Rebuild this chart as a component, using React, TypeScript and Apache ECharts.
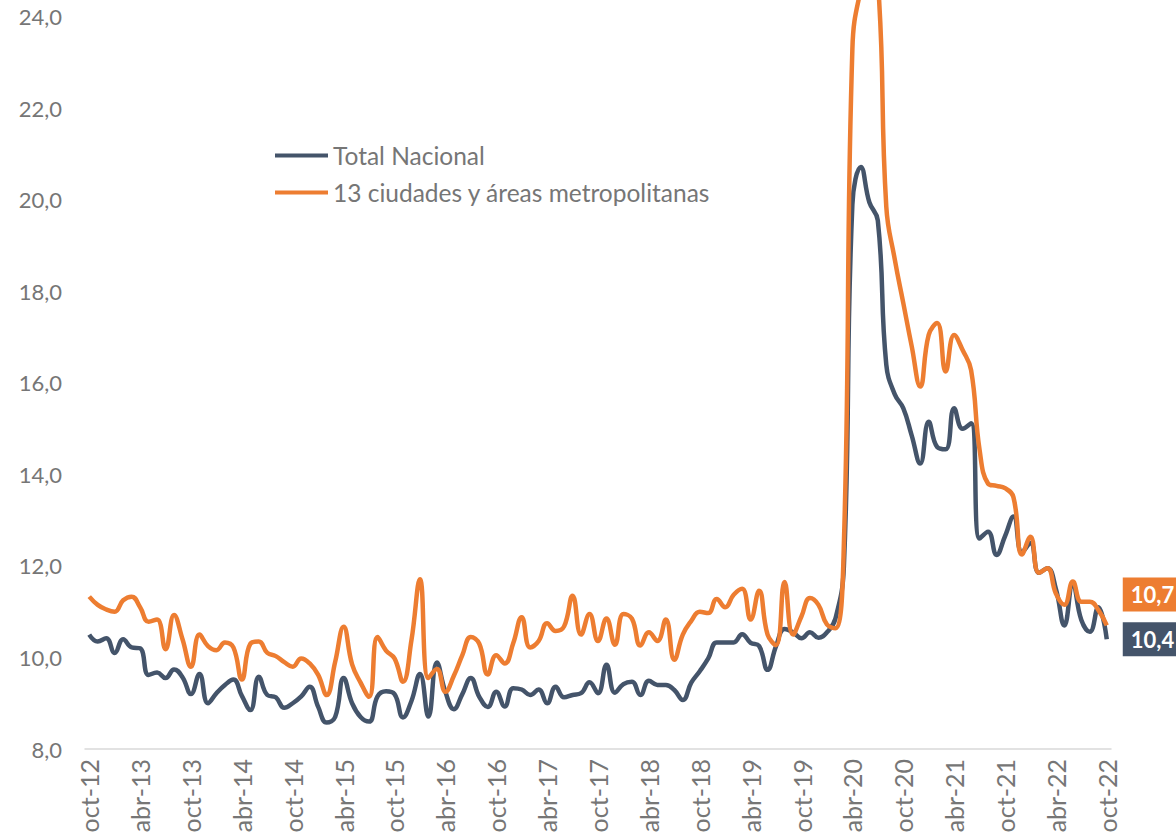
import React, { useEffect, useRef } from "react";
import * as echarts from "echarts";

const monthNames = ["ene", "feb", "mar", "abr", "may", "jun", "jul", "ago", "sep", "oct", "nov", "dic"];
const startYear = 2012;
const startMonth = 9; // oct
const pointCount = 121;

const categories: string[] = [];
for (let i = 0; i < pointCount; i++) {
  const m = (startMonth + i) % 12;
  const y = startYear + Math.floor((startMonth + i) / 12);
  categories.push(`${monthNames[m]}-${String(y).slice(2)}`);
}

const totalNacional = [
  10.5, 10.35, 10.42, 10.1, 10.4, 10.22, 10.2, 9.62, 9.67, 9.55,
  9.74, 9.57, 9.2, 9.64, 9.0, 9.22, 9.4, 9.52, 9.16, 8.85,
  9.58, 9.18, 9.13, 8.9, 9.0, 9.15, 9.36, 8.92, 8.58, 8.7,
  9.55, 9.0, 8.7, 8.6, 9.15, 9.26, 9.2, 8.69, 9.05, 9.64,
  8.71, 9.89, 9.25, 8.87, 9.2, 9.55, 9.14, 8.92, 9.25, 8.93,
  9.33, 9.3, 9.18, 9.3, 9.0, 9.36, 9.13, 9.18, 9.22, 9.46,
  9.22, 9.84, 9.23, 9.42, 9.47, 9.18, 9.49, 9.4, 9.4, 9.29,
  9.07, 9.45, 9.7, 9.98, 10.33, 10.33, 10.33, 10.51, 10.32, 10.25,
  9.73, 10.25, 10.62, 10.55, 10.42, 10.55, 10.43, 10.55, 10.85, 12.0,
  19.9, 20.72, 19.95, 19.55, 16.4, 15.75, 15.45, 14.85, 14.24, 15.15,
  14.6, 14.55, 15.45, 15.0, 15.12, 12.6, 12.75, 12.24, 12.65, 13.08,
  12.3, 12.5, 11.85, 11.95, 11.5, 10.7, 11.6, 10.82, 10.56, 11.1,
  10.4,
];

const trece = [
  11.33, 11.15, 11.05, 11.0, 11.25, 11.33, 11.1, 10.78, 10.83, 10.18,
  10.93, 10.4, 9.8, 10.5, 10.25, 10.16, 10.33, 10.22, 9.52, 10.3,
  10.35, 10.1, 10.03, 9.9, 9.8, 9.98, 9.87, 9.62, 9.18, 9.9,
  10.67, 9.85, 9.45, 9.14, 10.45, 10.15, 9.98, 9.47, 10.38, 11.71,
  9.55, 9.75, 9.25, 9.6, 10.05, 10.45, 10.3, 9.63, 10.05, 9.87,
  10.31, 10.88, 10.22, 10.36, 10.75, 10.58, 10.68, 11.35, 10.5, 10.95,
  10.36, 10.85, 10.28, 10.95, 10.85, 10.26, 10.55, 10.36, 10.83, 9.95,
  10.5, 10.8, 11.0, 10.97, 11.28, 11.1, 11.37, 11.5, 10.83, 11.46,
  10.5, 10.27, 11.65, 10.5, 10.9, 11.3, 11.15, 10.72, 10.64, 12.5,
  23.3, 24.6, 25.0, 24.8, 19.85, 18.7, 17.75, 16.8, 15.92, 17.05,
  17.31, 16.25, 17.05, 16.72, 16.28, 14.54, 13.8, 13.75, 13.7, 13.5,
  12.25, 12.64, 11.85, 11.95, 11.4, 11.15, 11.66, 11.22, 11.22, 11.04,
  10.7,
];

const seriesNames = ["Total Nacional", "13 ciudades y áreas metropolitanas"];
const DARK = "#44546A";
const ORANGE = "#ED7D31";
const TEXT = "#767676";
const FONT = "Lato, 'Open Sans', sans-serif";

const fmt = (v: number) => v.toFixed(1).replace(".", ",");

export default function App() {
  const ref = useRef<HTMLDivElement>(null);

  useEffect(() => {
    if (!ref.current) return;
    const chart = echarts.init(ref.current, undefined, { renderer: "svg" });
    const endVal = (p: any) => {
      const v = Array.isArray(p.value) ? p.value[p.value.length - 1] : p.value;
      return fmt(Number(v));
    };
    chart.setOption({
      animation: false,
      backgroundColor: "#ffffff",
      textStyle: { fontFamily: FONT },
      grid: { left: 85, right: 65, top: 0, bottom: 90, containLabel: false },
      legend: {
        orient: "vertical",
        left: 275,
        top: 143,
        padding: 0,
        icon: "rect",
        itemWidth: 53,
        itemHeight: 4,
        itemGap: 12,
        data: seriesNames,
        textStyle: { fontSize: 24.5, color: TEXT, fontFamily: FONT },
      },
      xAxis: {
        type: "category",
        data: categories,
        boundaryGap: true,
        axisLine: { lineStyle: { color: "#d9d9d9", width: 1.5 } },
        axisTick: { show: false },
        axisLabel: {
          interval: 5,
          rotate: 90,
          color: TEXT,
          fontSize: 25,
          fontFamily: FONT,
          margin: 10,
        },
      },
      yAxis: {
        type: "value",
        min: 8,
        max: 24.37,
        interval: 2,
        axisLine: { show: false },
        axisTick: { show: false },
        splitLine: { show: false },
        axisLabel: {
          color: TEXT,
          fontSize: 22,
          fontFamily: FONT,
          margin: 23,
          formatter: (v: number) => {
            const r = Math.round(v);
            return Math.abs(v - r) < 1e-6 && r % 2 === 0 ? fmt(r) : "";
          },
        },
      },
      series: [
        {
          name: seriesNames[0],
          type: "line",
          data: totalNacional,
          smooth: 0.45,
          showSymbol: false,
          symbol: "none",
          color: DARK,
          lineStyle: { color: DARK, width: 4.5 },
          emphasis: { disabled: true },
          endLabel: {
            show: true,
            formatter: endVal,
            color: "#ffffff",
            fontWeight: "bold",
            fontSize: 22,
            fontFamily: FONT,
            backgroundColor: DARK,
            padding: [6, 8, 6, 8],
            distance: 16,
            offset: [0, 0],
          },
        },
        {
          name: seriesNames[1],
          type: "line",
          data: trece,
          smooth: 0.45,
          showSymbol: false,
          symbol: "none",
          color: ORANGE,
          lineStyle: { color: ORANGE, width: 4.5 },
          emphasis: { disabled: true },
          endLabel: {
            show: true,
            formatter: endVal,
            color: "#ffffff",
            fontWeight: "bold",
            fontSize: 22,
            fontFamily: FONT,
            backgroundColor: ORANGE,
            padding: [6, 8, 6, 8],
            distance: 16,
            offset: [0, -31],
          },
        },
      ],
    });
    return () => chart.dispose();
  }, []);

  return (
    <div
      ref={ref}
      style={{ position: "fixed", left: 0, top: 0, width: 1176, height: 839, background: "#fff" }}
    />
  );
}
